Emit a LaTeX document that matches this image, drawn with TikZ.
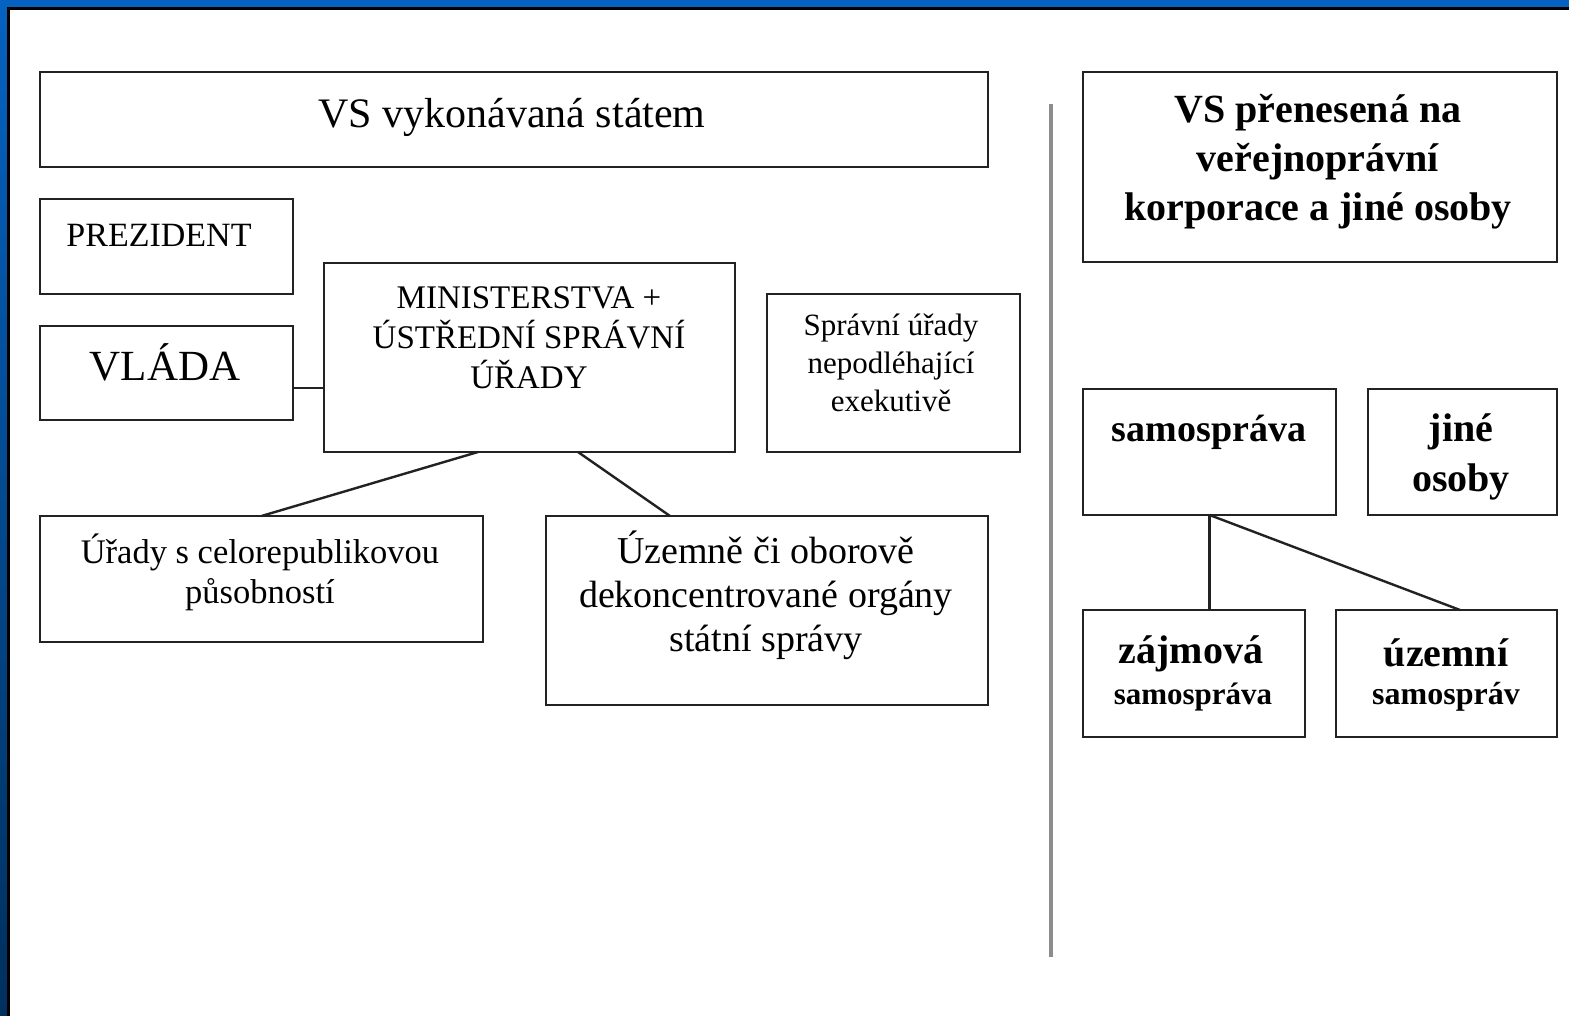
\documentclass[tikz,border=0pt]{standalone}
\usepackage{fontspec}
\setmainfont{Liberation Serif}
\definecolor{frameblue}{HTML}{0562C0}
\definecolor{framenavy}{HTML}{00305E}
\definecolor{boxline}{HTML}{222222}
\definecolor{sepgray}{HTML}{8C8C8C}
\begin{document}
\begin{tikzpicture}[x=1pt,y=-1pt,
  box/.style={draw=boxline, line width=2.6pt, inner sep=0pt, outer sep=0pt, fill=white},
  conn/.style={draw=boxline, line width=2.4pt},
  txt/.style={inner sep=0pt, align=center, text=black},
]
% background frame
\useasboundingbox (0,0) rectangle (1569,1016);
\shade[top color=frameblue, bottom color=framenavy] (0,0) rectangle (1569,1016);
\fill[frameblue] (0,0) rectangle (1569,9);
\fill[white] (8,9) rectangle (1569,1016);
\draw[black, line width=3pt] (8,1016) -- (8,8.5) -- (1569,8.5);

% left part: state administration
\node[box, minimum width=948, minimum height=95] (b1) at (514,119.5) {};
\node[txt, font=\fontsize{42}{42}\selectfont] (t1) at (512,117) {VS vykonávaná státem};

\node[box, minimum width=253, minimum height=95] (pres) at (166.5,246.5) {};
\node[txt, font=\fontsize{34}{34}\selectfont] (tpres) at (159,235) {PREZIDENT};

\node[box, minimum width=253, minimum height=94] (vlada) at (166.5,373) {};
\node[txt, font=\fontsize{43}{43}\selectfont] (tvlada) at (165,362) {VLÁDA};

\node[box, minimum width=411, minimum height=189] (min) at (529.5,357.5) {};
\node[txt, font=\fontsize{33}{40}\selectfont] (tmin) at (529,338) {MINISTERSTVA +\\ÚSTŘEDNÍ SPRÁVNÍ\\ÚŘADY};

\node[box, minimum width=253, minimum height=158] (spr) at (893.5,373) {};
\node[txt, font=\fontsize{31}{38}\selectfont] (tspr) at (891,363) {Správní úřady\\nepodléhající\\exekutivě};

\node[box, minimum width=443, minimum height=126] (ur) at (261.5,579) {};
\node[txt, font=\fontsize{34.5}{40}\selectfont] (tur) at (260,572) {Úřady s celorepublikovou\\působností};

\node[box, minimum width=442, minimum height=189] (uz) at (767,610.5) {};
\node[txt, font=\fontsize{38}{44}\selectfont] (tuz) at (766,595) {Územně či oborově\\dekoncentrované orgány\\státní správy};

\draw[conn] ([yshift=-15pt]vlada.east) -- ([yshift=-15pt]vlada.east -| min.west);
\draw[conn] ([xshift=-51.5pt]min.south) -- (ur.north);
\draw[conn] ([xshift=48.5pt]min.south) -- ([xshift=-97pt]uz.north);

% separator
\coordinate (septop) at (1051,104);
\coordinate (sepbot) at (1051,957);
\draw[sepgray, line width=4pt] (septop) -- (sepbot);

% right part: delegated administration
\node[box, minimum width=474, minimum height=190] (vsp) at (1320,167) {};
\node[txt, font=\bfseries\fontsize{40}{49}\selectfont] (tvsp) at (1318,162) {VS přenesená na\\veřejnoprávní\\korporace a jiné osoby};

\node[box, minimum width=253, minimum height=126] (sam) at (1209.5,452) {};
\node[txt, font=\bfseries\fontsize{38}{38}\selectfont] (tsam) at (1209,432) {samospráva};

\node[box, minimum width=189, minimum height=126] (jine) at (1462.5,452) {};
\node[txt, font=\bfseries\fontsize{40}{50}\selectfont] (tjine) at (1461,457) {jiné\\osoby};

\node[box, minimum width=222, minimum height=127] (zaj) at (1194,673.5) {};
\node[txt, font=\bfseries\fontsize{40}{40}\selectfont] (tzaj1) at (1191,654) {zájmová};
\node[txt, font=\bfseries\fontsize{31}{31}\selectfont] (tzaj2) at (1193,697) {samospráva};

\node[box, minimum width=221, minimum height=127] (uzs) at (1446.5,673.5) {};
\node[txt, font=\bfseries\fontsize{40}{40}\selectfont] (tuzs1) at (1446,653) {územní};
\node[txt, font=\bfseries\fontsize{32}{32}\selectfont] (tuzs2) at (1446,697) {samospráv};

\draw[conn] (sam.south) -- (sam.south |- zaj.north);
\draw[conn] (sam.south) -- ([xshift=13.5pt]uzs.north);
\end{tikzpicture}
\end{document}
